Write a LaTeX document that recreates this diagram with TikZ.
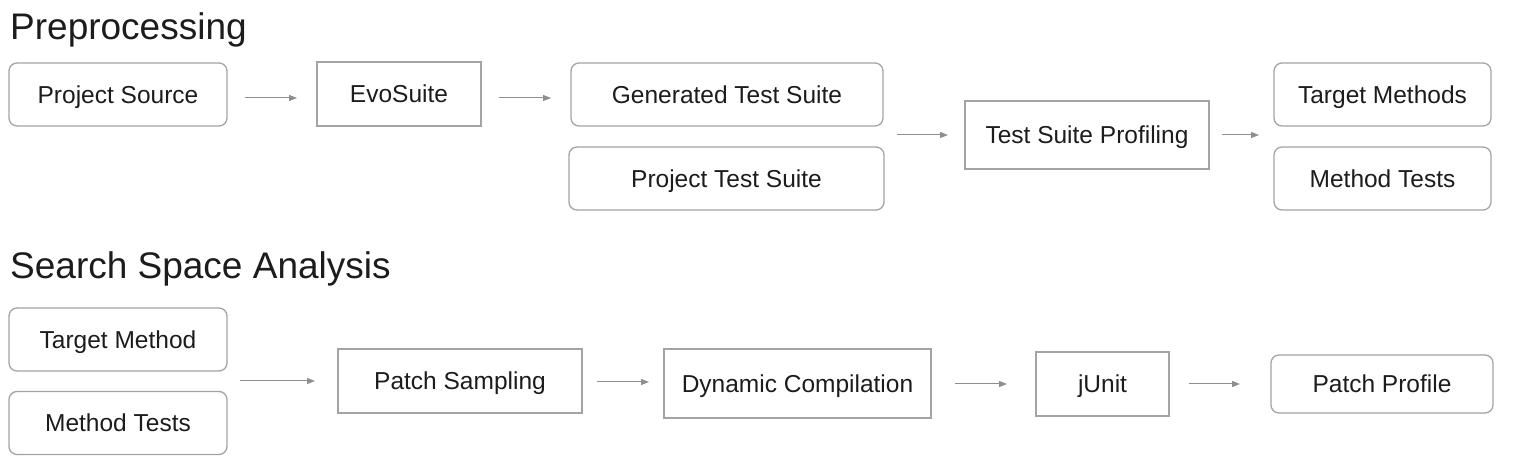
\documentclass[tikz,border=0pt]{standalone}
\usepackage{fontspec}
\setmainfont{Liberation Sans}
\usetikzlibrary{arrows.meta}
\definecolor{boxline}{HTML}{A3A3A3}
\definecolor{arrline}{HTML}{8E8E8E}
\definecolor{txt}{HTML}{1C1C1C}
\tikzset{
  basebox/.style={draw=boxline, line width=1.3pt, inner sep=0pt, outer sep=0pt,
    text=txt, font=\fontsize{24.5}{29}\selectfont, text height=17.6pt, text depth=0pt},
  roundbox/.style={basebox, rounded corners=8pt},
  sharpbox/.style={basebox},
  arr/.style={draw=arrline, line width=1pt, -{Triangle[length=8pt,width=6pt]}},
  titletext/.style={anchor=base west, inner sep=0pt, text=txt, font=\fontsize{37}{44}\selectfont}
}
\begin{document}
\begin{tikzpicture}[x=1pt,y=-1pt]
\useasboundingbox (0,0) rectangle (1516,462);
% titles
\node[titletext] (t1) at (10,39.5) {Preprocessing};
\node[titletext] (t2) at (10,278.5) {Search Space Analysis};
% top row
\node[roundbox, minimum width=218pt, minimum height=63pt] (ps) at (118,94.5) {Project Source};
\node[sharpbox, minimum width=164pt, minimum height=64pt] (evo) at (399,94) {EvoSuite};
\node[roundbox, minimum width=312pt, minimum height=63pt] (gts) at (727,94.5) {Generated Test Suite};
\node[roundbox, minimum width=315pt, minimum height=63pt] (pts) at (726.5,178.5) {Project Test Suite};
\node[sharpbox, minimum width=244pt, minimum height=68pt] (tsp) at (1087,135) {Test Suite Profiling};
\node[roundbox, minimum width=217pt, minimum height=63pt] (tms) at (1382.5,94.5) {Target Methods};
\node[roundbox, minimum width=217pt, minimum height=63pt] (mta) at (1382.5,178.5) {Method Tests};
% bottom row
\node[roundbox, minimum width=218pt, minimum height=63pt] (tmb) at (118,339.5) {Target Method};
\node[roundbox, minimum width=218pt, minimum height=63pt] (mtb) at (118,423) {Method Tests};
\node[sharpbox, minimum width=244pt, minimum height=64pt] (psm) at (460,381) {Patch Sampling};
\node[sharpbox, minimum width=267pt, minimum height=69pt] (dc) at (797.5,383.5) {Dynamic Compilation};
\node[sharpbox, minimum width=133pt, minimum height=64pt] (ju) at (1102.5,384) {jUnit};
\node[roundbox, minimum width=222pt, minimum height=58pt] (pp) at (1382,384) {Patch Profile};
% top arrows
\draw[arr] ([xshift=18pt,yshift=-3.5pt]ps.east) -- ([xshift=-20pt,yshift=-3.5pt]ps.east -| evo.west);
\draw[arr] ([xshift=18pt,yshift=-3.5pt]ps.east -| evo.east) -- ([xshift=-20pt,yshift=-3.5pt]gts.west);
\draw[arr] ([xshift=14pt]gts.east |- tsp.west) -- ([xshift=-17pt]tsp.west);
\draw[arr] ([xshift=13pt]tsp.east) -- ([xshift=-15pt]tms.west |- tsp.east);
% bottom arrows
\draw[arr] ([xshift=13pt]tmb.east |- psm.west) -- ([xshift=-23pt]psm.west);
\draw[arr] ([xshift=15pt,yshift=-1pt]psm.east) -- ([xshift=-15pt,yshift=-1pt]psm.east -| dc.west);
\draw[arr] ([xshift=24pt]ju.west -| dc.east) -- ([xshift=-29pt]ju.west);
\draw[arr] ([xshift=20pt]ju.east) -- ([xshift=-31pt]pp.west);
\end{tikzpicture}
\end{document}
